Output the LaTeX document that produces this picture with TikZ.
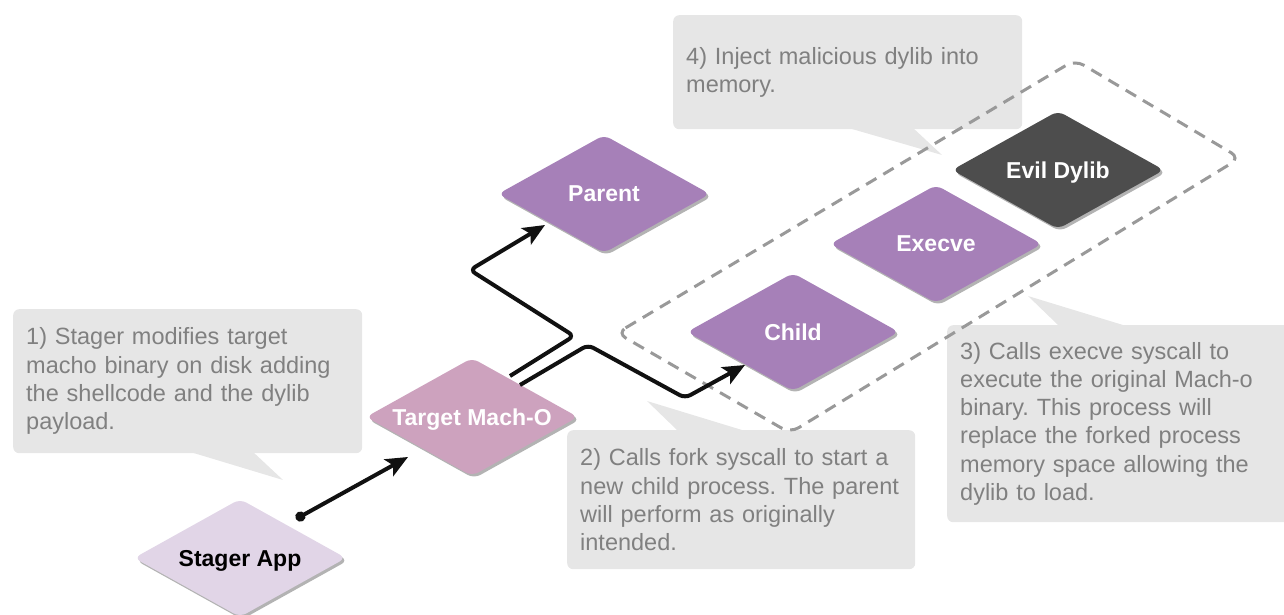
\documentclass[tikz,border=0pt]{standalone}
\usepackage{fontspec}
\setmainfont{Liberation Sans}
\usetikzlibrary{shapes.geometric,shadows,arrows.meta,calc}

\definecolor{stagerfill}{HTML}{E1D5E7}
\definecolor{targetfill}{HTML}{CDA2BE}
\definecolor{procfill}{HTML}{A680B8}
\definecolor{evilfill}{HTML}{4D4D4D}
\definecolor{notefill}{HTML}{E6E6E6}
\definecolor{notetext}{HTML}{808080}
\definecolor{regionline}{HTML}{999999}
\definecolor{shadowgray}{HTML}{B3B3B3}
\definecolor{flowink}{HTML}{111111}

\frenchspacing
\hyphenpenalty=10000
\begin{document}
\begin{tikzpicture}[x=1pt,y=-1pt,
  proc/.style={diamond, aspect=1.8, minimum width=212pt, minimum height=118pt,
    inner sep=0pt, text depth=0pt, rounded corners=7pt, fill=procfill, text=white,
    font=\fontsize{23}{27}\selectfont\bfseries,
    copy shadow={shadow xshift=2pt, shadow yshift=-2.5pt, fill=shadowgray, draw=none}},
  note/.style={rectangle, rounded corners=6pt, fill=notefill, text=notetext,
    font=\fontsize{23.5}{28.2}\selectfont, align=left,
    inner xsep=13pt, inner ysep=0pt, anchor=north west},
  tail/.style={fill=notefill},
  flow/.style={draw=flowink, line width=4pt, rounded corners=6pt,
    -{Stealth[length=22pt,width=19pt,inset=5pt]}},
  region/.style={draw=regionline, line width=3pt, dash pattern=on 12pt off 8pt,
    rounded corners=10pt}
]
\useasboundingbox (0,0) rectangle (1284,615);

% callout boxes with their pointers
\fill[tail] (187,451) -- (283,480) -- (252,451) -- cycle;
\node[note, text width=323pt, minimum width=349pt, minimum height=144pt] (n1) at (13,309)
  {1) Stager modifies target\\macho binary on disk adding\\the shellcode and the dylib\\payload.};

\fill[tail] (677,430) -- (647,401) -- (742,430) -- cycle;
\node[note, text width=322pt, minimum width=348pt, minimum height=139pt] (n2) at (567,430)
  {2) Calls fork syscall to start a\\new child process. The parent\\will perform as originally\\intended.};

\fill[tail] (1058,325) -- (1028,296) -- (1123,325) -- cycle;
\node[note, text width=323pt, minimum width=349pt, minimum height=197pt] (n3) at (947,325)
  {3) Calls execve syscall to\\execute the original Mach-o\\binary. This process will\\replace the forked process\\memory space allowing the\\dylib to load.};

\fill[tail] (845,127) -- (942,155) -- (912,127) -- cycle;
\node[note, text width=323pt, minimum width=349pt, minimum height=114pt] (n4) at (673,15)
  {4) Inject malicious dylib into\\memory.};

% process shapes
\node[proc, fill=stagerfill, text=black] (stager) at (240,558) {Stager App};
\node[proc, fill=targetfill] (target) at (472,417) {Target Mach-O};
\node[proc] (parent) at (604,194) {Parent};
\node[proc] (child) at (793,332) {Child};
\node[proc] (execve) at (936,244) {Execve};
\node[proc, fill=evilfill] (evil) at (1058,170) {Evil Dylib};

% child-side group
\draw[region] (617,333) -- (1075,60) -- (1240,158) -- (790,433) -- cycle;

% connectors
\draw[flow, {Circle[length=10pt]}-{Stealth[length=22pt,width=19pt,inset=5pt]}]
  ($(stager.center)+(56,-39)$) -- ($(target.center)+(-64,40)$);
\draw[flow] ($(target.center)+(38,-41)$) -- ($(target.center)+(102,-81)$)
  -- ($(parent.center)+(-134,76)$) -- ($(parent.center)+(-59,31)$);
\draw[flow] ($(target.center)+(48,-32)$) -- ($(target.center)+(116,-72)$)
  -- ($(child.center)+(-108,66)$) -- ($(child.center)+(-48,33)$);
\end{tikzpicture}
\end{document}
